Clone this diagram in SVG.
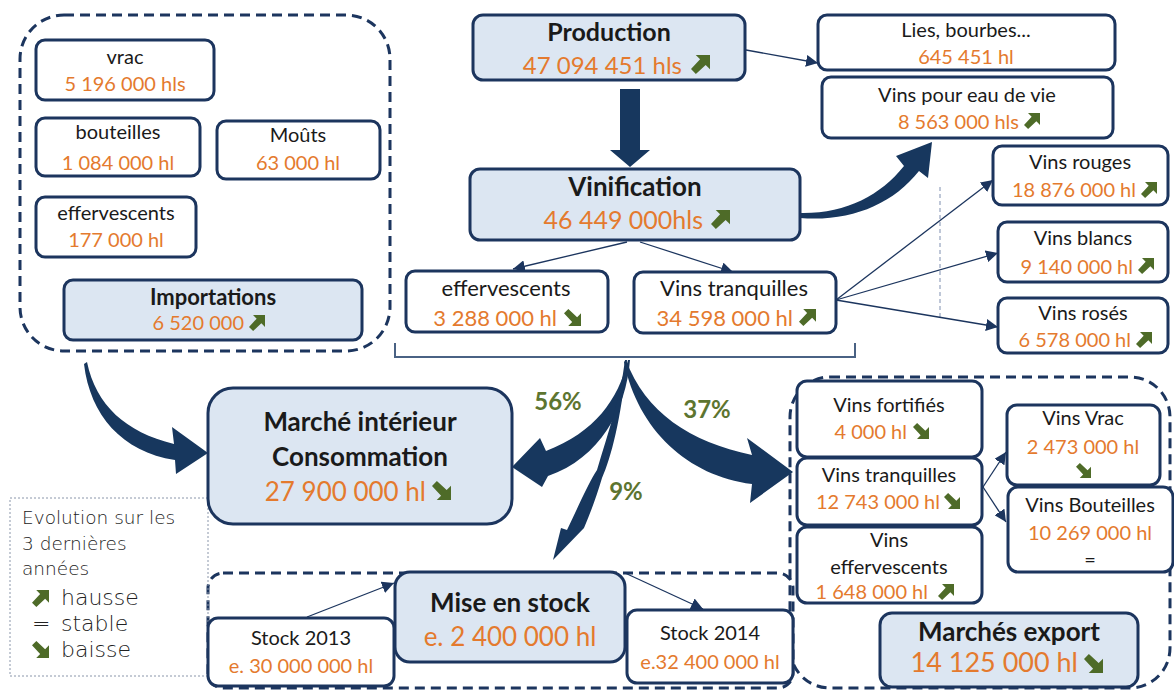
<svg xmlns="http://www.w3.org/2000/svg" width="1174" height="691" viewBox="0 0 1174 691">
<defs>
<style>
.box{fill:#fff;stroke:#1c355e;stroke-width:3}
.hl{fill:#dce6f2;stroke:#1c355e;stroke-width:3}
.cont{fill:none;stroke:#1c355e;stroke-width:3;stroke-dasharray:10 6}
.t{font-family:Lato,'Liberation Sans',sans-serif;fill:#1a1a1a;text-anchor:middle;font-size:20px}
.n{font-family:Lato,'Liberation Sans',sans-serif;fill:#e47a2e;text-anchor:middle;font-size:20px}
.e{text-anchor:end}
.b{font-weight:bold}
.conn{stroke:#1c355e;stroke-width:1.3;fill:none;marker-end:url(#ah)}
.fat{fill:#17375e}
.pct{font-family:Lato,'Liberation Sans',sans-serif;fill:#5d7530;font-weight:bold;font-size:24px;text-anchor:middle}
.lg{font-family:'DejaVu Sans',sans-serif;font-weight:200;fill:#222;font-size:18.5px}
.lg2{font-family:'DejaVu Sans',sans-serif;font-weight:200;fill:#222;font-size:22px}
</style>
<marker id="ah" viewBox="0 0 10 10" refX="10" refY="5" markerWidth="12" markerHeight="12" markerUnits="userSpaceOnUse" orient="auto">
<path d="M0,0 L10,5 L0,10 z" fill="#1c355e"/>
</marker>
<symbol id="up" viewBox="0 0 14 14"><polygon points="3.5,0 14,0 14,10.5 10.8,7.3 3.6,14 0,10.4 6.7,3.2" fill="#4e6b28"/></symbol>
<symbol id="dn" viewBox="0 0 14 14"><polygon points="3.5,14 14,14 14,3.5 10.8,6.7 3.6,0 0,3.6 6.7,10.8" fill="#4e6b28"/></symbol>
</defs>
<rect width="1174" height="691" fill="#fff"/>

<!-- containers -->
<rect class="cont" x="20" y="15" width="370" height="336" rx="44"/>
<rect class="cont" x="790" y="377" width="380" height="311" rx="40"/>
<rect class="cont" x="208" y="573" width="585" height="115" rx="15"/>
<line x1="940" y1="187" x2="940" y2="318" stroke="#7f8fb0" stroke-width="1" stroke-dasharray="4 3"/>
<rect x="10" y="498" width="198" height="178" fill="none" stroke="#8a96aa" stroke-width="1" stroke-dasharray="2 2"/>
<path d="M395,343 V357 H855 V343" fill="none" stroke="#4a6284" stroke-width="2"/>

<g id="connectors">
<path class="fat" d="M87,362 C96,405 125,432 174,444 L172,427 L208,453 L176,474 L175,460 C122,452 90,415 84,364 Z"/>
<path class="fat" d="M620,89 H640 V150 H650 L630,167 L610,150 H620 Z"/>
<path class="fat" d="M800,213 C845,214 880,196 904,166 L896,156 L932,142 L928,178 L919,171 C892,205 850,222 800,218 Z"/>
<path class="fat" d="M628,360 C618,400 595,432 546,451 L540,438 L512,467 L542,487 L548,476 C600,458 626,410 630,360 Z"/>
<path class="fat" d="M626,360 C645,412 690,442 752,455 L747,438 L793,472 L750,503 L752,484 C688,476 638,430 624,362 Z"/>
<path class="fat" d="M627,360 C621,420 611,458 602,478 C596,498 590,514 584,528 L553,560 L561,528 L567,530 C579,505 589,482 597,470 C608,432 620,400 625,360 Z"/>
<line class="conn" x1="746" y1="50" x2="818" y2="63"/>
<line class="conn" x1="627" y1="242" x2="513" y2="269"/>
<line class="conn" x1="640" y1="242" x2="733" y2="272"/>
<line class="conn" x1="836" y1="300" x2="993" y2="180"/>
<line class="conn" x1="836" y1="300" x2="998" y2="253"/>
<line class="conn" x1="836" y1="300" x2="998" y2="327"/>
<line class="conn" x1="983" y1="487" x2="1006" y2="452"/>
<line class="conn" x1="983" y1="487" x2="1006" y2="522"/>
<line class="conn" x1="307" y1="617" x2="394" y2="583"/>
<line class="conn" x1="625" y1="573" x2="703" y2="609"/>
</g>

<g id="vrac"><rect class="box" x="36" y="40" width="178" height="60" rx="9"/>
<text class="t" x="125" y="64">vrac</text><text class="n" x="125" y="91">5 196 000 hls</text></g>
<g id="bouteilles"><rect class="box" x="36" y="118" width="164" height="58" rx="9"/>
<text class="t" x="118" y="139">bouteilles</text><text class="n" x="118" y="170">1 084 000 hl</text></g>
<g id="mouts"><rect class="box" x="217" y="121" width="163" height="58" rx="9"/>
<text class="t" x="298" y="142">Moûts</text><text class="n" x="298" y="170">63 000 hl</text></g>
<g id="eff-import"><rect class="box" x="36" y="197" width="160" height="60" rx="9"/>
<text class="t" x="116" y="220">effervescents</text><text class="n" x="116" y="247">177 000 hl</text></g>
<g id="importations"><rect class="hl" x="64" y="280" width="298" height="60" rx="9"/>
<text class="t b" x="213" y="305" style="font-size:22px">Importations</text>
<text class="n e" x="244" y="330">6 520 000</text><use href="#up" x="249" y="315" width="16" height="16"/></g>

<g id="production"><rect class="hl" x="473" y="15" width="272" height="65" rx="10"/>
<text class="t b" x="609" y="41" style="font-size:25px">Production</text>
<text class="n e" x="682" y="74" style="font-size:24px">47 094 451 hls</text><use href="#up" x="691" y="55" width="19" height="19"/></g>

<g id="vinification"><rect class="hl" x="470" y="169" width="330" height="71" rx="10"/>
<text class="t b" x="635" y="196" style="font-size:26px">Vinification</text>
<text class="n e" x="703" y="229" style="font-size:25px">46 449 000hls</text><use href="#up" x="711" y="210" width="19" height="19"/></g>

<g id="effervescents"><rect class="box" x="406" y="271" width="202" height="61" rx="9"/>
<text class="t" x="506" y="296" style="font-size:22px">effervescents</text>
<text class="n e" x="557" y="326" style="font-size:22px">3 288 000 hl</text><use href="#dn" x="564" y="309" width="17" height="17"/></g>

<g id="vins-tranquilles"><rect class="box" x="634" y="272" width="202" height="61" rx="9"/>
<text class="t" x="734" y="296" style="font-size:22px">Vins tranquilles</text>
<text class="n e" x="793" y="326" style="font-size:22px">34 598 000 hl</text><use href="#up" x="799" y="309" width="17" height="17"/></g>

<g id="lies"><rect class="box" x="818" y="15" width="297" height="55" rx="9"/>
<text class="t" x="966" y="37">Lies, bourbes...</text><text class="n" x="966" y="64">645 451 hl</text></g>
<g id="eau-de-vie"><rect class="box" x="822" y="77" width="291" height="61" rx="9"/>
<text class="t" x="967" y="102">Vins pour eau de vie</text>
<text class="n e" x="1019" y="129">8 563 000 hls</text><use href="#up" x="1024" y="113" width="16" height="16"/></g>
<g id="rouges"><rect class="box" x="993" y="146" width="175" height="59" rx="9"/>
<text class="t" x="1080" y="169">Vins rouges</text>
<text class="n e" x="1136" y="197">18 876 000 hl</text><use href="#up" x="1141" y="182" width="16" height="16"/></g>
<g id="blancs"><rect class="box" x="998" y="222" width="170" height="60" rx="9"/>
<text class="t" x="1083" y="245">Vins blancs</text>
<text class="n e" x="1133" y="274">9 140 000 hl</text><use href="#up" x="1138" y="258" width="16" height="16"/></g>
<g id="roses"><rect class="box" x="998" y="298" width="170" height="55" rx="9"/>
<text class="t" x="1083" y="320">Vins rosés</text>
<text class="n e" x="1131" y="347">6 578 000 hl</text><use href="#up" x="1136" y="332" width="16" height="16"/></g>

<g id="marche-interieur"><rect class="hl" x="208" y="388" width="304" height="136" rx="25"/>
<text class="t b" x="360" y="431" style="font-size:26px">Marché intérieur</text>
<text class="t b" x="360" y="466" style="font-size:26px">Consommation</text>
<text class="n e" x="426" y="501" style="font-size:26px">27 900 000 hl</text><use href="#dn" x="432" y="481" width="19" height="19"/></g>

<g id="mise-en-stock"><rect class="hl" x="395" y="572" width="230" height="90" rx="15"/>
<text class="t b" x="510" y="612" style="font-size:26px">Mise en stock</text>
<text class="n" x="510" y="646" style="font-size:26px">e. 2 400 000 hl</text></g>
<g id="stock-2013"><rect class="box" x="208" y="618" width="186" height="68" rx="10"/>
<text class="t" x="301" y="645">Stock 2013</text><text class="n" x="301" y="673">e. 30 000 000 hl</text></g>
<g id="stock-2014"><rect class="box" x="627" y="610" width="166" height="73" rx="10"/>
<text class="t" x="710" y="640">Stock 2014</text><text class="n" x="710" y="669">e.32 400 000 hl</text></g>

<g id="fortifies"><rect class="box" x="797" y="381" width="185" height="76" rx="10"/>
<text class="t" x="889" y="412">Vins fortifiés</text>
<text class="n e" x="907" y="439">4 000 hl</text><use href="#dn" x="913" y="423" width="16" height="16"/></g>
<g id="export-tranquilles"><rect class="box" x="797" y="458" width="185" height="67" rx="10"/>
<text class="t" x="889" y="482">Vins tranquilles</text>
<text class="n e" x="940" y="509">12 743 000 hl</text><use href="#dn" x="944" y="493" width="16" height="16"/></g>
<g id="export-effervescents"><rect class="box" x="797" y="527" width="185" height="76" rx="10"/>
<text class="t" x="889" y="547">Vins</text><text class="t" x="889" y="574">effervescents</text>
<text class="n e" x="928" y="599">1 648 000 hl</text><use href="#up" x="938" y="584" width="16" height="16"/></g>
<g id="vrac-export"><rect class="box" x="1007" y="405" width="153" height="80" rx="10"/>
<text class="t" x="1083" y="425">Vins Vrac</text><text class="n" x="1083" y="454">2 473 000 hl</text>
<use href="#dn" x="1076" y="463" width="15" height="15"/></g>
<g id="bouteilles-export"><rect class="box" x="1008" y="487" width="165" height="85" rx="10"/>
<text class="t" x="1090" y="512">Vins Bouteilles</text><text class="n" x="1090" y="540">10 269 000  hl</text>
<text class="t" x="1090" y="567">=</text></g>
<g id="marches-export"><rect class="hl" x="880" y="613" width="258" height="74" rx="12"/>
<text class="t b" x="1009" y="641" style="font-size:26px">Marchés export</text>
<text class="n e" x="1078" y="672" style="font-size:27px">14 125 000 hl</text><use href="#dn" x="1084" y="654" width="19" height="19"/></g>

<g id="labels">
<text class="pct" x="558" y="410">56%</text>
<text class="pct" x="707" y="418">37%</text>
<text class="pct" x="626" y="500">9%</text>
</g>

<g id="legend">
<text class="lg" x="22" y="524">Evolution sur les</text>
<text class="lg" x="22" y="550">3 dernières</text>
<text class="lg" x="22" y="575">années</text>
<use href="#up" x="32" y="590" width="17" height="17"/><text class="lg2" x="61" y="605">hausse</text>
<text class="lg2" x="32" y="631">=</text><text class="lg2" x="61" y="631">stable</text>
<use href="#dn" x="32" y="641" width="17" height="17"/><text class="lg2" x="61" y="657">baisse</text>
</g>
</svg>
